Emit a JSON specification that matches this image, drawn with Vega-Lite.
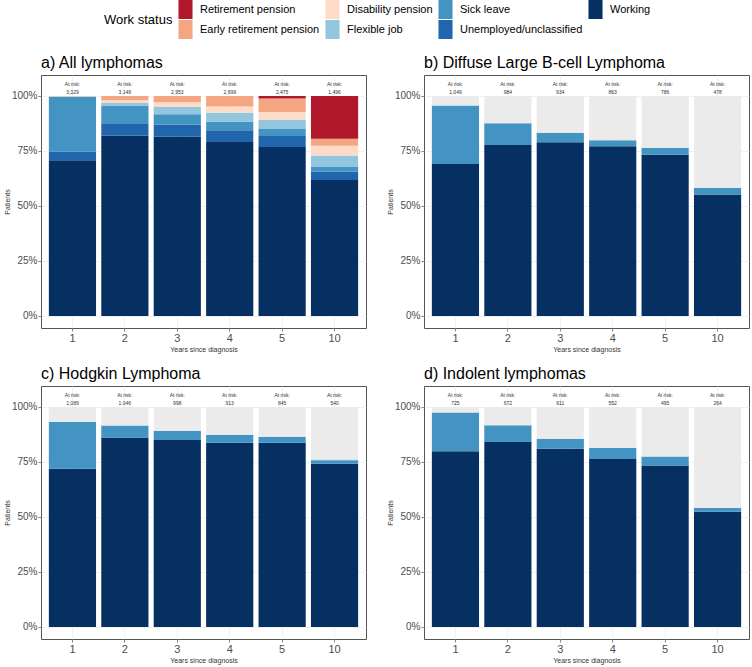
{
  "$schema": "https://vega.github.io/schema/vega-lite/v6.json",
  "padding": {"left": 2, "top": 0, "right": 2, "bottom": 1},
  "background": "white",
  "data": {"values": [
    {"panel": "a) All lymphomas", "year": "1", "status": "Working", "pct": 0.708},
    {"panel": "a) All lymphomas", "year": "1", "status": "Unemployed/unclassified", "pct": 0.039},
    {"panel": "a) All lymphomas", "year": "1", "status": "Sick leave", "pct": 0.248},
    {"panel": "a) All lymphomas", "year": "1", "status": "Flexible job", "pct": 0.002},
    {"panel": "a) All lymphomas", "year": "1", "status": "Disability pension", "pct": 0.001},
    {"panel": "a) All lymphomas", "year": "1", "status": "Early retirement pension", "pct": 0.002},
    {"panel": "a) All lymphomas", "year": "2", "status": "Working", "pct": 0.820},
    {"panel": "a) All lymphomas", "year": "2", "status": "Unemployed/unclassified", "pct": 0.056},
    {"panel": "a) All lymphomas", "year": "2", "status": "Sick leave", "pct": 0.080},
    {"panel": "a) All lymphomas", "year": "2", "status": "Flexible job", "pct": 0.012},
    {"panel": "a) All lymphomas", "year": "2", "status": "Disability pension", "pct": 0.012},
    {"panel": "a) All lymphomas", "year": "2", "status": "Early retirement pension", "pct": 0.020},
    {"panel": "a) All lymphomas", "year": "3", "status": "Working", "pct": 0.814},
    {"panel": "a) All lymphomas", "year": "3", "status": "Unemployed/unclassified", "pct": 0.056},
    {"panel": "a) All lymphomas", "year": "3", "status": "Sick leave", "pct": 0.047},
    {"panel": "a) All lymphomas", "year": "3", "status": "Flexible job", "pct": 0.033},
    {"panel": "a) All lymphomas", "year": "3", "status": "Disability pension", "pct": 0.021},
    {"panel": "a) All lymphomas", "year": "3", "status": "Early retirement pension", "pct": 0.029},
    {"panel": "a) All lymphomas", "year": "4", "status": "Working", "pct": 0.791},
    {"panel": "a) All lymphomas", "year": "4", "status": "Unemployed/unclassified", "pct": 0.053},
    {"panel": "a) All lymphomas", "year": "4", "status": "Sick leave", "pct": 0.038},
    {"panel": "a) All lymphomas", "year": "4", "status": "Flexible job", "pct": 0.041},
    {"panel": "a) All lymphomas", "year": "4", "status": "Disability pension", "pct": 0.029},
    {"panel": "a) All lymphomas", "year": "4", "status": "Early retirement pension", "pct": 0.048},
    {"panel": "a) All lymphomas", "year": "5", "status": "Working", "pct": 0.768},
    {"panel": "a) All lymphomas", "year": "5", "status": "Unemployed/unclassified", "pct": 0.050},
    {"panel": "a) All lymphomas", "year": "5", "status": "Sick leave", "pct": 0.032},
    {"panel": "a) All lymphomas", "year": "5", "status": "Flexible job", "pct": 0.042},
    {"panel": "a) All lymphomas", "year": "5", "status": "Disability pension", "pct": 0.035},
    {"panel": "a) All lymphomas", "year": "5", "status": "Early retirement pension", "pct": 0.061},
    {"panel": "a) All lymphomas", "year": "5", "status": "Retirement pension", "pct": 0.012},
    {"panel": "a) All lymphomas", "year": "10", "status": "Working", "pct": 0.618},
    {"panel": "a) All lymphomas", "year": "10", "status": "Unemployed/unclassified", "pct": 0.037},
    {"panel": "a) All lymphomas", "year": "10", "status": "Sick leave", "pct": 0.022},
    {"panel": "a) All lymphomas", "year": "10", "status": "Flexible job", "pct": 0.052},
    {"panel": "a) All lymphomas", "year": "10", "status": "Disability pension", "pct": 0.044},
    {"panel": "a) All lymphomas", "year": "10", "status": "Early retirement pension", "pct": 0.032},
    {"panel": "a) All lymphomas", "year": "10", "status": "Retirement pension", "pct": 0.195},

    {"panel": "b) Diffuse Large B-cell Lymphoma", "year": "1", "status": "Working", "pct": 0.691},
    {"panel": "b) Diffuse Large B-cell Lymphoma", "year": "1", "status": "Sick leave", "pct": 0.265},
    {"panel": "b) Diffuse Large B-cell Lymphoma", "year": "1", "status": "Other", "pct": 0.044},
    {"panel": "b) Diffuse Large B-cell Lymphoma", "year": "2", "status": "Working", "pct": 0.777},
    {"panel": "b) Diffuse Large B-cell Lymphoma", "year": "2", "status": "Sick leave", "pct": 0.099},
    {"panel": "b) Diffuse Large B-cell Lymphoma", "year": "2", "status": "Other", "pct": 0.124},
    {"panel": "b) Diffuse Large B-cell Lymphoma", "year": "3", "status": "Working", "pct": 0.789},
    {"panel": "b) Diffuse Large B-cell Lymphoma", "year": "3", "status": "Sick leave", "pct": 0.043},
    {"panel": "b) Diffuse Large B-cell Lymphoma", "year": "3", "status": "Other", "pct": 0.168},
    {"panel": "b) Diffuse Large B-cell Lymphoma", "year": "4", "status": "Working", "pct": 0.771},
    {"panel": "b) Diffuse Large B-cell Lymphoma", "year": "4", "status": "Sick leave", "pct": 0.027},
    {"panel": "b) Diffuse Large B-cell Lymphoma", "year": "4", "status": "Other", "pct": 0.202},
    {"panel": "b) Diffuse Large B-cell Lymphoma", "year": "5", "status": "Working", "pct": 0.732},
    {"panel": "b) Diffuse Large B-cell Lymphoma", "year": "5", "status": "Sick leave", "pct": 0.032},
    {"panel": "b) Diffuse Large B-cell Lymphoma", "year": "5", "status": "Other", "pct": 0.236},
    {"panel": "b) Diffuse Large B-cell Lymphoma", "year": "10", "status": "Working", "pct": 0.552},
    {"panel": "b) Diffuse Large B-cell Lymphoma", "year": "10", "status": "Sick leave", "pct": 0.030},
    {"panel": "b) Diffuse Large B-cell Lymphoma", "year": "10", "status": "Other", "pct": 0.418},

    {"panel": "c) Hodgkin Lymphoma", "year": "1", "status": "Working", "pct": 0.719},
    {"panel": "c) Hodgkin Lymphoma", "year": "1", "status": "Sick leave", "pct": 0.213},
    {"panel": "c) Hodgkin Lymphoma", "year": "1", "status": "Other", "pct": 0.068},
    {"panel": "c) Hodgkin Lymphoma", "year": "2", "status": "Working", "pct": 0.861},
    {"panel": "c) Hodgkin Lymphoma", "year": "2", "status": "Sick leave", "pct": 0.054},
    {"panel": "c) Hodgkin Lymphoma", "year": "2", "status": "Other", "pct": 0.085},
    {"panel": "c) Hodgkin Lymphoma", "year": "3", "status": "Working", "pct": 0.850},
    {"panel": "c) Hodgkin Lymphoma", "year": "3", "status": "Sick leave", "pct": 0.040},
    {"panel": "c) Hodgkin Lymphoma", "year": "3", "status": "Other", "pct": 0.110},
    {"panel": "c) Hodgkin Lymphoma", "year": "4", "status": "Working", "pct": 0.837},
    {"panel": "c) Hodgkin Lymphoma", "year": "4", "status": "Sick leave", "pct": 0.036},
    {"panel": "c) Hodgkin Lymphoma", "year": "4", "status": "Other", "pct": 0.127},
    {"panel": "c) Hodgkin Lymphoma", "year": "5", "status": "Working", "pct": 0.837},
    {"panel": "c) Hodgkin Lymphoma", "year": "5", "status": "Sick leave", "pct": 0.027},
    {"panel": "c) Hodgkin Lymphoma", "year": "5", "status": "Other", "pct": 0.136},
    {"panel": "c) Hodgkin Lymphoma", "year": "10", "status": "Working", "pct": 0.742},
    {"panel": "c) Hodgkin Lymphoma", "year": "10", "status": "Sick leave", "pct": 0.015},
    {"panel": "c) Hodgkin Lymphoma", "year": "10", "status": "Flexible job", "pct": 0.004},
    {"panel": "c) Hodgkin Lymphoma", "year": "10", "status": "Other", "pct": 0.239},

    {"panel": "d) Indolent lymphomas", "year": "1", "status": "Working", "pct": 0.798},
    {"panel": "d) Indolent lymphomas", "year": "1", "status": "Sick leave", "pct": 0.176},
    {"panel": "d) Indolent lymphomas", "year": "1", "status": "Other", "pct": 0.026},
    {"panel": "d) Indolent lymphomas", "year": "2", "status": "Working", "pct": 0.841},
    {"panel": "d) Indolent lymphomas", "year": "2", "status": "Sick leave", "pct": 0.076},
    {"panel": "d) Indolent lymphomas", "year": "2", "status": "Other", "pct": 0.083},
    {"panel": "d) Indolent lymphomas", "year": "3", "status": "Working", "pct": 0.810},
    {"panel": "d) Indolent lymphomas", "year": "3", "status": "Sick leave", "pct": 0.045},
    {"panel": "d) Indolent lymphomas", "year": "3", "status": "Other", "pct": 0.145},
    {"panel": "d) Indolent lymphomas", "year": "4", "status": "Working", "pct": 0.763},
    {"panel": "d) Indolent lymphomas", "year": "4", "status": "Sick leave", "pct": 0.051},
    {"panel": "d) Indolent lymphomas", "year": "4", "status": "Other", "pct": 0.186},
    {"panel": "d) Indolent lymphomas", "year": "5", "status": "Working", "pct": 0.734},
    {"panel": "d) Indolent lymphomas", "year": "5", "status": "Sick leave", "pct": 0.041},
    {"panel": "d) Indolent lymphomas", "year": "5", "status": "Other", "pct": 0.225},
    {"panel": "d) Indolent lymphomas", "year": "10", "status": "Working", "pct": 0.523},
    {"panel": "d) Indolent lymphomas", "year": "10", "status": "Sick leave", "pct": 0.018},
    {"panel": "d) Indolent lymphomas", "year": "10", "status": "Other", "pct": 0.459},

    {"panel": "a) All lymphomas", "year": "1", "at_risk": "3,329"},
    {"panel": "a) All lymphomas", "year": "2", "at_risk": "3,149"},
    {"panel": "a) All lymphomas", "year": "3", "at_risk": "2,953"},
    {"panel": "a) All lymphomas", "year": "4", "at_risk": "2,699"},
    {"panel": "a) All lymphomas", "year": "5", "at_risk": "2,475"},
    {"panel": "a) All lymphomas", "year": "10", "at_risk": "1,496"},
    {"panel": "b) Diffuse Large B-cell Lymphoma", "year": "1", "at_risk": "1,049"},
    {"panel": "b) Diffuse Large B-cell Lymphoma", "year": "2", "at_risk": "984"},
    {"panel": "b) Diffuse Large B-cell Lymphoma", "year": "3", "at_risk": "934"},
    {"panel": "b) Diffuse Large B-cell Lymphoma", "year": "4", "at_risk": "863"},
    {"panel": "b) Diffuse Large B-cell Lymphoma", "year": "5", "at_risk": "786"},
    {"panel": "b) Diffuse Large B-cell Lymphoma", "year": "10", "at_risk": "478"},
    {"panel": "c) Hodgkin Lymphoma", "year": "1", "at_risk": "1,089"},
    {"panel": "c) Hodgkin Lymphoma", "year": "2", "at_risk": "1,046"},
    {"panel": "c) Hodgkin Lymphoma", "year": "3", "at_risk": "998"},
    {"panel": "c) Hodgkin Lymphoma", "year": "4", "at_risk": "913"},
    {"panel": "c) Hodgkin Lymphoma", "year": "5", "at_risk": "845"},
    {"panel": "c) Hodgkin Lymphoma", "year": "10", "at_risk": "540"},
    {"panel": "d) Indolent lymphomas", "year": "1", "at_risk": "725"},
    {"panel": "d) Indolent lymphomas", "year": "2", "at_risk": "672"},
    {"panel": "d) Indolent lymphomas", "year": "3", "at_risk": "611"},
    {"panel": "d) Indolent lymphomas", "year": "4", "at_risk": "552"},
    {"panel": "d) Indolent lymphomas", "year": "5", "at_risk": "495"},
    {"panel": "d) Indolent lymphomas", "year": "10", "at_risk": "264"}
  ]},
  "transform": [
    {"calculate": "indexof(['Working','Unemployed/unclassified','Sick leave','Flexible job','Disability pension','Early retirement pension','Retirement pension','Other'], datum.status)", "as": "ord"}
  ],
  "facet": {
    "field": "panel", "type": "nominal",
    "header": {"title": null, "labelAnchor": "start", "labelAlign": "left", "labelFontSize": 16, "labelColor": "black", "labelPadding": 4, "labelFont": "Liberation Sans"}
  },
  "columns": 2,
  "spacing": {"row": 12, "column": 18},
  "resolve": {"axis": {"x": "independent", "y": "independent"}},
  "spec": {
    "width": 325,
    "height": 253,
    "encoding": {
      "x": {
        "field": "year", "type": "ordinal", "sort": ["1", "2", "3", "4", "5", "10"],
        "scale": {"paddingInner": 0.1, "paddingOuter": 0.15},
        "axis": {
          "title": "Years since diagnosis", "titleFontSize": 7, "titleFontWeight": "normal", "titleColor": "#333333", "titlePadding": 2,
          "labelAngle": 0, "labelFontSize": 11, "labelColor": "#4D4D4D", "labelPadding": 1,
          "tickColor": "#333333", "tickSize": 3, "tickWidth": 0.6, "domain": false,
          "grid": true, "gridColor": "#EBEBEB", "gridWidth": 0.7, "bandPosition": 0.5
        }
      }
    },
    "layer": [
      {
        "transform": [{"filter": "isValid(datum.status)"}],
        "mark": {"type": "bar"},
        "encoding": {
          "y": {
            "field": "pct", "type": "quantitative", "stack": "zero",
            "scale": {"domain": [-0.055, 1.095], "nice": false, "zero": false},
            "axis": {
              "title": "Patients", "titleFontSize": 7, "titleFontWeight": "normal", "titleColor": "#333333", "titlePadding": 1,
              "values": [0, 0.125, 0.25, 0.375, 0.5, 0.625, 0.75, 0.875, 1],
              "format": ".0%",
              "labelExpr": "round(datum.value * 8) % 2 == 0 ? datum.label : ''",
              "labelFontSize": 10, "labelColor": "#4D4D4D", "labelPadding": 1,
              "tickColor": "#333333", "tickSize": 3, "tickWidth": 0.6,
              "tickOpacity": {"condition": {"test": "round(datum.value * 8) % 2 == 0", "value": 1}, "value": 0},
              "domain": false,
              "grid": true, "gridColor": "#EBEBEB",
              "gridWidth": {"condition": {"test": "round(datum.value * 8) % 2 == 0", "value": 0.7}, "value": 0.35}
            }
          },
          "color": {
            "field": "status", "type": "nominal",
            "scale": {
              "domain": ["Retirement pension", "Disability pension", "Sick leave", "Working", "Early retirement pension", "Flexible job", "Unemployed/unclassified", "Other"],
              "range": ["#B2182B", "#FDDBC7", "#4393C3", "#053061", "#F4A582", "#92C5DE", "#2166AC", "#EBEBEB"]
            },
            "legend": {
              "title": "Work status",
              "values": ["Retirement pension", "Disability pension", "Sick leave", "Working", "Early retirement pension", "Flexible job", "Unemployed/unclassified"],
              "orient": "none", "legendX": 63, "legendY": -75,
              "direction": "horizontal", "columns": 4,
              "titleOrient": "left", "titleAnchor": "middle", "titleBaseline": "middle",
              "titleFontSize": 13, "titleFontWeight": "normal", "titleColor": "black", "titlePadding": 3,
              "labelFontSize": 11, "labelColor": "black", "labelOffset": 5,
              "symbolType": "M-0.74,-1L0.74,-1L0.74,1L-0.74,1Z", "symbolSize": 361,
              "symbolStrokeWidth": 0, "symbolOpacity": 1,
              "rowPadding": 1, "columnPadding": 3
            }
          },
          "order": {"field": "ord", "type": "quantitative"}
        }
      },
      {
        "transform": [{"filter": "isValid(datum.at_risk)"}],
        "mark": {"type": "text", "text": "At risk:", "fontSize": 5, "color": "#333333"},
        "encoding": {"y": {"datum": 1.055}}
      },
      {
        "transform": [{"filter": "isValid(datum.at_risk)"}],
        "mark": {"type": "text", "fontSize": 5, "color": "#333333"},
        "encoding": {"y": {"datum": 1.02}, "text": {"field": "at_risk"}}
      }
    ]
  },
  "config": {
    "font": "Liberation Sans",
    "view": {"stroke": "#555555", "strokeWidth": 1}
  }
}
